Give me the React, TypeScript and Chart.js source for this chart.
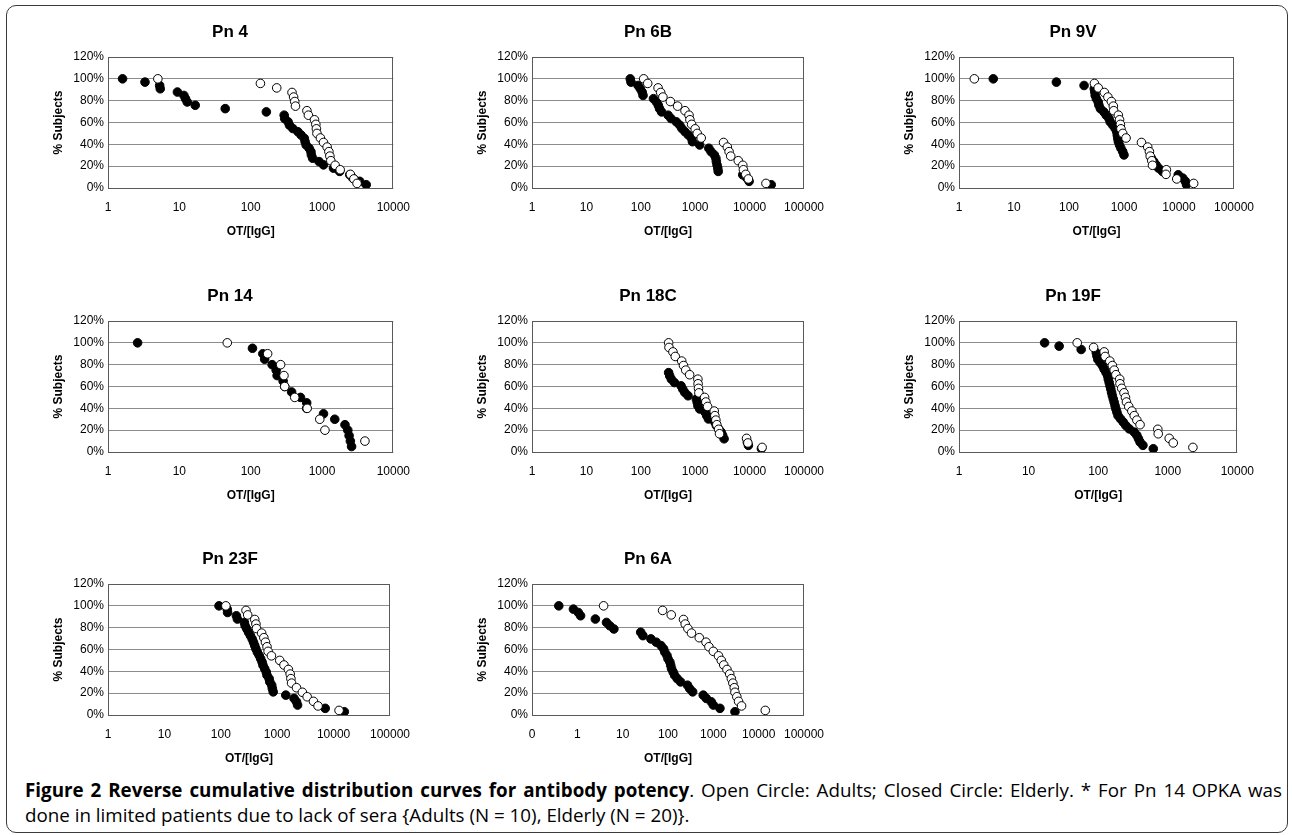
import React, { useEffect, useRef } from "react";
import { Chart, registerables } from "chart.js";
Chart.register(...registerables);

const FONT = "'Liberation Sans', Arial, sans-serif";

// ---------- tick labels ----------
const yTickValues = [0, 20, 40, 60, 80, 100, 120];
const yTickLabels = ["0%", "20%", "40%", "60%", "80%", "100%", "120%"];
const xTicks4 = [1, 10, 100, 1000, 10000];
const xLabels4 = ["1", "10", "100", "1000", "10000"];
const xTicks5 = [1, 10, 100, 1000, 10000, 100000];
const xLabels5 = ["1", "10", "100", "1000", "10000", "100000"];
const xTicks6 = [0.1, 1, 10, 100, 1000, 10000, 100000];
const xLabels6 = ["0", "1", "10", "100", "1000", "10000", "100000"];

// ---------- % subjects (reverse cumulative) ----------
const elderlyPct = [100, 97, 93.9, 90.9, 87.9, 84.8, 81.8, 78.8, 75.8, 72.7, 69.7, 66.7, 63.6, 60.6, 57.6, 54.5, 51.5, 48.5, 45.5, 42.4, 39.4, 36.4, 33.3, 30.3, 27.3, 24.2, 21.2, 18.2, 15.2, 12.1, 9.1, 6.1, 3.0];
const adultsPct = [100, 95.8, 91.7, 87.5, 83.3, 79.2, 75, 70.8, 66.7, 62.5, 58.3, 54.2, 50, 45.8, 41.7, 37.5, 33.3, 29.2, 25, 20.8, 16.7, 12.5, 8.3, 4.2];
const pn14ElderlyPct = [100, 95, 90, 85, 80, 75, 70, 65, 60, 55, 50, 45, 40, 35, 30, 25, 20, 15, 10, 5];
const pn14AdultsPct = [100, 90, 80, 70, 60, 50, 40, 30, 20, 10];
const pn18cElderlyPct = [72.7, 69.7, 66.7, 63.6, 60.6, 57.6, 54.5, 51.5, 48.5, 45.5, 42.4, 39.4, 36.4, 33.3, 30.3, 27.3, 24.2, 21.2, 18.2, 15.2, 12.1, 9.1, 6.1, 3.0];

// ---------- OT/[IgG] values ----------
const pn4Elderly = [1.6, 3.3, 5.3, 5.4, 9.4, 11.6, 12.2, 12.9, 16.7, 44, 166, 295, 300, 335, 350, 390, 460, 510, 565, 580, 600, 660, 700, 710, 740, 910, 1050, 1450, 1770, 2450, 2700, 3380, 4170];
const pn4Adults = [5.0, 137, 232, 380, 400, 415, 425, 615, 645, 785, 820, 835, 850, 950, 1050, 1180, 1250, 1290, 1330, 1530, 1800, 2500, 2800, 3100];

const pn6bElderly = [64, 66, 89, 98, 106, 110, 171, 194, 210, 221, 241, 318, 360, 450, 520, 570, 650, 750, 860, 890, 1210, 1780, 1960, 2250, 2400, 2450, 2520, 2600, 2650, 7480, 8900, 9800, 25000];
const pn6bAdults = [113, 134, 208, 232, 255, 350, 475, 650, 770, 800, 860, 1000, 1090, 1290, 3320, 3900, 4200, 4500, 6200, 7500, 7700, 8500, 9500, 20000];

const pn9vElderly = [4.2, 59, 188, 288, 295, 300, 315, 340, 350, 372, 430, 475, 534, 560, 625, 690, 740, 755, 770, 790, 830, 880, 950, 1000, 3150, 3480, 3830, 4260, 5000, 9700, 11700, 13100, 13700];
const pn9vAdults = [1.9, 290, 340, 440, 510, 590, 640, 650, 790, 830, 860, 880, 950, 1090, 2080, 2700, 2900, 3000, 3200, 3300, 5900, 5800, 9100, 18500];

const pn14Elderly = [2.6, 106, 148, 157, 200, 228, 235, 285, 300, 375, 500, 610, 610, 1050, 1510, 2100, 2300, 2400, 2500, 2600];
const pn14Adults = [47, 173, 263, 293, 300, 415, 620, 930, 1100, 4000];

const pn18cElderly = [325, 340, 365, 415, 550, 590, 645, 740, 1050, 1090, 1120, 1210, 1520, 1630, 1750, 2300, 2450, 2700, 3000, 3200, 3400, 9100, 9500, 16500];
const pn18cAdults = [325, 330, 390, 430, 565, 610, 670, 790, 1120, 1130, 1150, 1170, 1490, 1570, 1690, 2240, 2300, 2400, 2500, 2700, 2800, 8800, 9300, 17000];

const pn19fElderly = [17, 27.5, 57, 94, 96, 99, 107, 116, 122, 130, 137, 140, 144, 148, 152, 156, 160, 165, 170, 175, 180, 186, 193, 210, 230, 250, 280, 330, 360, 380, 400, 440, 620];
const pn19fAdults = [50, 86, 122, 126, 147, 160, 170, 180, 204, 206, 218, 235, 247, 255, 275, 305, 330, 360, 400, 720, 730, 1050, 1200, 2300];

const pn23fElderly = [93, 130, 132, 189, 197, 262, 270, 290, 310, 335, 360, 380, 400, 420, 445, 480, 510, 540, 560, 600, 640, 660, 720, 740, 800, 820, 850, 1420, 1990, 2200, 2300, 7100, 15500];
const pn23fAdults = [123, 280, 300, 400, 420, 430, 530, 580, 620, 660, 690, 790, 1110, 1320, 1580, 1700, 1750, 1800, 2200, 2800, 3400, 4400, 5300, 12500];

const pn6aElderly = [0.39, 0.82, 1.05, 1.18, 2.5, 4.4, 5.2, 6.4, 25, 28, 42, 55, 70, 80, 85, 95, 100, 110, 115, 120, 130, 140, 160, 190, 270, 300, 350, 600, 700, 900, 1000, 1400, 3000];
const pn6aAdults = [3.8, 76, 118, 220, 240, 275, 330, 490, 690, 800, 1000, 1300, 1500, 1700, 2000, 2300, 2500, 2700, 2900, 3000, 3300, 3600, 4200, 14000];

// ---------- layout ----------
const Y_AXIS_W = 62;
const RIGHT_PAD = 25;
const TITLE_H = 35;
const BOX_H = 131;
const X_AXIS_H = 52;

const boxPlugin = {
  id: "plotBox",
  beforeDatasetsDraw(chart: any) {
    const { ctx, chartArea } = chart;
    const { left, top, right, bottom } = chartArea;
    ctx.save();
    ctx.strokeStyle = "#5a5a5a";
    ctx.lineWidth = 1;
    ctx.strokeRect(Math.round(left) + 0.5, Math.round(top) + 0.5, Math.round(right - left) - 1, Math.round(bottom - top));
    ctx.restore();
  },
};

const panelTitlePlugin = {
  id: "panelTitle",
  afterDraw(chart: any, _args: any, opts: any) {
    const { ctx } = chart;
    ctx.save();
    ctx.font = `bold 17px ${FONT}`;
    ctx.fillStyle = "#000";
    ctx.textAlign = "center";
    ctx.textBaseline = "middle";
    ctx.fillText(opts.text, opts.x, opts.y);
    ctx.restore();
  },
};

type PanelProps = {
  title: string;
  titleX: number;
  boxLeft: number;
  boxRight: number;
  boxTop: number;
  xMin: number;
  xMax: number;
  xTicks: number[];
  xLabels: string[];
  adultsX: number[];
  adultsY: number[];
  elderlyX: number[];
  elderlyY: number[];
};

function Panel(p: PanelProps) {
  const ref = useRef<HTMLCanvasElement | null>(null);
  const width = p.boxRight - p.boxLeft + Y_AXIS_W + RIGHT_PAD;
  const height = TITLE_H + BOX_H + X_AXIS_H;
  const canvasLeft = p.boxLeft - Y_AXIS_W;
  const canvasTop = p.boxTop - TITLE_H;
  useEffect(() => {
    if (!ref.current) return;
    const adults = p.adultsX.map((x, i) => ({ x, y: p.adultsY[i] }));
    const elderly = p.elderlyX.map((x, i) => ({ x, y: p.elderlyY[i] }));
    const chart = new Chart(ref.current, {
      type: "scatter",
      data: {
        datasets: [
          {
            label: "Adults",
            data: adults,
            pointRadius: 4.3,
            pointBackgroundColor: "#ffffff",
            pointBorderColor: "#000000",
            pointBorderWidth: 1,
            showLine: false,
          },
          {
            label: "Elderly",
            data: elderly,
            pointRadius: 4.3,
            pointBackgroundColor: "#000000",
            pointBorderColor: "#000000",
            pointBorderWidth: 1,
            showLine: false,
          },
        ],
      },
      options: {
        animation: false,
        responsive: false,
        maintainAspectRatio: false,
        devicePixelRatio: 1,
        events: [],
        layout: { padding: { top: TITLE_H, left: 0, right: RIGHT_PAD, bottom: 0 } },
        plugins: {
          legend: { display: false },
          tooltip: { enabled: false },
          title: { display: false },
          panelTitle: { text: p.title, x: p.titleX - canvasLeft, y: TITLE_H - 25 },
        },
        scales: {
          x: {
            type: "logarithmic",
            position: "bottom",
            min: p.xMin,
            max: p.xMax,
            afterBuildTicks: (s: any) => {
              s.ticks = p.xTicks.map((v) => ({ value: v }));
            },
            afterFit: (s: any) => {
              s.height = X_AXIS_H;
            },
            ticks: {
              autoSkip: false,
              maxRotation: 0,
              padding: 12,
              color: "#000",
              font: { family: FONT, size: 12 },
              callback: (_v: any, i: number) => p.xLabels[i],
            },
            grid: { display: false, drawTicks: false },
            border: { display: false },
            title: {
              display: true,
              text: "OT/[IgG]",
              color: "#000",
              font: { family: FONT, size: 12, weight: "bold" },
              padding: { top: 0, bottom: 1 },
            },
          },
          y: {
            min: 0,
            max: 120,
            afterBuildTicks: (s: any) => {
              s.ticks = yTickValues.map((v) => ({ value: v }));
            },
            afterFit: (s: any) => {
              s.width = Y_AXIS_W;
            },
            ticks: {
              padding: 4,
              color: "#000",
              font: { family: FONT, size: 12 },
              callback: (_v: any, i: number) => yTickLabels[i],
            },
            grid: { color: "#8c8c8c", lineWidth: 1, drawTicks: false },
            border: { display: false },
            title: {
              display: true,
              text: "% Subjects",
              color: "#000",
              font: { family: FONT, size: 12, weight: "bold" },
              padding: { top: 5, bottom: 0 },
            },
          },
        },
      },
      plugins: [boxPlugin, panelTitlePlugin],
    } as any);
    return () => chart.destroy();
  }, []);
  return (
    <canvas
      ref={ref}
      width={width}
      height={height}
      style={{
        position: "absolute",
        left: canvasLeft,
        top: canvasTop,
        width,
        height,
        display: "block",
      }}
    />
  );
}

const COL = [
  [108, 397],
  [532, 811],
  [959, 1241],
];
const TITLE_X = [230, 648, 1073];
const ROW = [57, 321, 584];

export default function App() {
  return (
    <div style={{ position: "absolute", left: 0, top: 0, width: 1292, height: 835, background: "#fff", overflow: "hidden" }}>
      <div
        style={{
          position: "absolute",
          left: 6,
          top: 5,
          width: 1280,
          height: 826,
          border: "1px solid #3a3a3a",
          borderRadius: 10,
        }}
      />
      <Panel title="Pn 4" titleX={TITLE_X[0]} boxLeft={COL[0][0]} boxRight={COL[0][1]} boxTop={ROW[0]} xMin={1} xMax={10000} xTicks={xTicks4} xLabels={xLabels4} adultsX={pn4Adults} adultsY={adultsPct} elderlyX={pn4Elderly} elderlyY={elderlyPct} />
      <Panel title="Pn 6B" titleX={TITLE_X[1]} boxLeft={COL[1][0]} boxRight={COL[1][1]} boxTop={ROW[0]} xMin={1} xMax={100000} xTicks={xTicks5} xLabels={xLabels5} adultsX={pn6bAdults} adultsY={adultsPct} elderlyX={pn6bElderly} elderlyY={elderlyPct} />
      <Panel title="Pn 9V" titleX={TITLE_X[2]} boxLeft={COL[2][0]} boxRight={COL[2][1]} boxTop={ROW[0]} xMin={1} xMax={100000} xTicks={xTicks5} xLabels={xLabels5} adultsX={pn9vAdults} adultsY={adultsPct} elderlyX={pn9vElderly} elderlyY={elderlyPct} />
      <Panel title="Pn 14" titleX={TITLE_X[0]} boxLeft={COL[0][0]} boxRight={COL[0][1]} boxTop={ROW[1]} xMin={1} xMax={10000} xTicks={xTicks4} xLabels={xLabels4} adultsX={pn14Adults} adultsY={pn14AdultsPct} elderlyX={pn14Elderly} elderlyY={pn14ElderlyPct} />
      <Panel title="Pn 18C" titleX={TITLE_X[1]} boxLeft={COL[1][0]} boxRight={COL[1][1]} boxTop={ROW[1]} xMin={1} xMax={100000} xTicks={xTicks5} xLabels={xLabels5} adultsX={pn18cAdults} adultsY={adultsPct} elderlyX={pn18cElderly} elderlyY={pn18cElderlyPct} />
      <Panel title="Pn 19F" titleX={TITLE_X[2]} boxLeft={COL[2][0]} boxRight={COL[2][1]} boxTop={ROW[1]} xMin={1} xMax={10000} xTicks={xTicks4} xLabels={xLabels4} adultsX={pn19fAdults} adultsY={adultsPct} elderlyX={pn19fElderly} elderlyY={elderlyPct} />
      <Panel title="Pn 23F" titleX={TITLE_X[0]} boxLeft={COL[0][0]} boxRight={COL[0][1]} boxTop={ROW[2]} xMin={1} xMax={100000} xTicks={xTicks5} xLabels={xLabels5} adultsX={pn23fAdults} adultsY={adultsPct} elderlyX={pn23fElderly} elderlyY={elderlyPct} />
      <Panel title="Pn 6A" titleX={TITLE_X[1]} boxLeft={COL[1][0]} boxRight={COL[1][1]} boxTop={ROW[2]} xMin={0.1} xMax={100000} xTicks={xTicks6} xLabels={xLabels6} adultsX={pn6aAdults} adultsY={adultsPct} elderlyX={pn6aElderly} elderlyY={elderlyPct} />
      <div
        style={{
          position: "absolute",
          left: 25,
          top: 778,
          width: 1257,
          fontFamily: "'Open Sans', 'Noto Sans', sans-serif",
          fontSize: 18.8,
          lineHeight: "25px",
          textAlign: "justify",
          color: "#000",
        }}
      >
        <b>Figure 2 Reverse cumulative distribution curves for antibody potency</b>. Open Circle: Adults; Closed Circle: Elderly. * For Pn 14 OPKA was done in limited patients due to lack of sera {"{"}Adults (N = 10), Elderly (N = 20){"}"}.
      </div>
    </div>
  );
}
